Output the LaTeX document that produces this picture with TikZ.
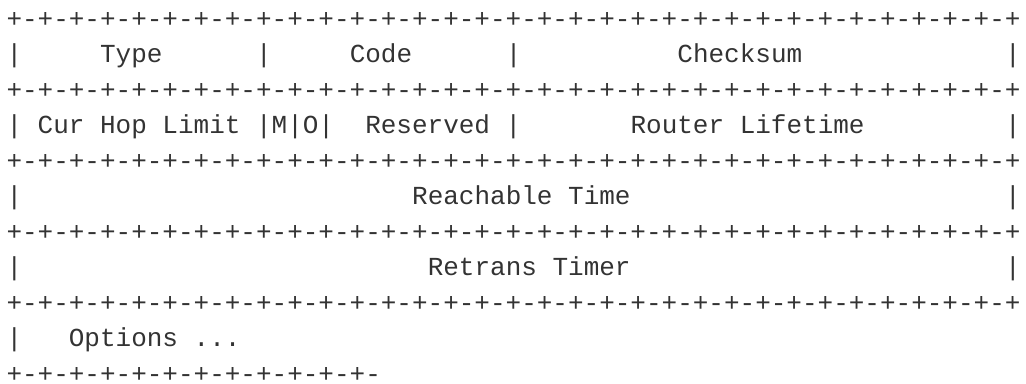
\documentclass[tikz,border=0pt]{standalone}
\usepackage{fontspec}
\newfontfamily\asciifont{Liberation Mono}
\definecolor{ink}{HTML}{333333}
\ExplSyntaxOn
\cs_new:Npn \myrep #1#2 {\prg_replicate:nn{#1}{#2}}
\ExplSyntaxOff
\tikzset{asciiline/.style={anchor=base west, inner sep=0pt, outer sep=0pt, text=ink,
  text depth=0pt, font=\asciifont\fontsize{19.5pt}{26pt}\selectfont}}
\begin{document}
\begin{tikzpicture}[x=0.75pt,y=-0.75pt]
\useasboundingbox (0,0) rectangle (1026,383);
\def\lx{6.5}
\node[asciiline] (l0) at (\lx,27) {\myrep{32}{+-}+};
\node[asciiline] (l1) at (\lx,62.5) {|\myrep{5}{~}Type\myrep{6}{~}|\myrep{5}{~}Code\myrep{6}{~}|\myrep{10}{~}Checksum\myrep{13}{~}|};
\node[asciiline] (l2) at (\lx,98) {\myrep{32}{+-}+};
\node[asciiline] (l3) at (\lx,133.5) {|~Cur~Hop~Limit~|M|O|~~Reserved~|\myrep{7}{~}Router~Lifetime\myrep{9}{~}|};
\node[asciiline] (l4) at (\lx,169) {\myrep{32}{+-}+};
\node[asciiline] (l5) at (\lx,204.5) {|\myrep{25}{~}Reachable~Time\myrep{24}{~}|};
\node[asciiline] (l6) at (\lx,240) {\myrep{32}{+-}+};
\node[asciiline] (l7) at (\lx,275.5) {|\myrep{26}{~}Retrans~Timer\myrep{24}{~}|};
\node[asciiline] (l8) at (\lx,311) {\myrep{32}{+-}+};
\node[asciiline] (l9) at (\lx,346.5) {|~~~Options~...};
\node[asciiline] (l10) at (\lx,382) {\myrep{12}{+-}};
\end{tikzpicture}
\end{document}
